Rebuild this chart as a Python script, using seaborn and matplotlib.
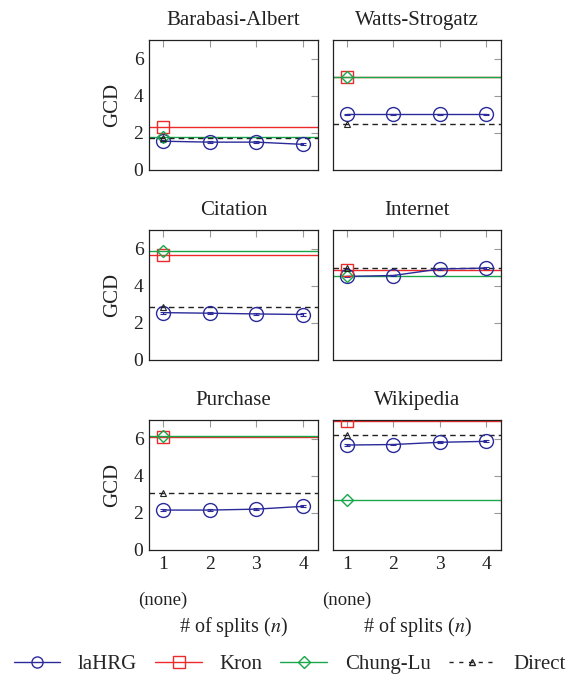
import matplotlib
matplotlib.use("Agg")
import matplotlib.pyplot as plt
import matplotlib.transforms as mtransforms
from matplotlib.lines import Line2D
import pandas as pd
import seaborn as sns

# data
datasets = ["Barabasi-Albert", "Watts-Strogatz", "Citation", "Internet", "Purchase", "Wikipedia"]
splits = [1, 2, 3, 4]
lahrg = [
    [1.55, 1.50, 1.50, 1.38],
    [3.00, 3.00, 3.00, 3.00],
    [2.55, 2.52, 2.48, 2.45],
    [4.50, 4.55, 4.90, 4.95],
    [2.15, 2.15, 2.20, 2.35],
    [5.65, 5.68, 5.80, 5.85],
]
lahrg_err = [
    [0.06, 0.05, 0.05, 0.06],
    [0.04, 0.04, 0.04, 0.04],
    [0.05, 0.04, 0.05, 0.06],
    [0.05, 0.05, 0.05, 0.06],
    [0.04, 0.04, 0.04, 0.05],
    [0.06, 0.05, 0.05, 0.05],
]
kron = [2.30, 5.00, 5.65, 4.85, 6.10, 6.95]
chung_lu = [1.80, 5.00, 5.85, 4.50, 6.15, 2.70]
direct = [1.70, 2.50, 2.85, 4.95, 3.05, 6.20]

BLUE = "#2a2a9a"
RED = "#ec2a2a"
GREEN = "#19a64b"
BLACK = "#222222"
TXT = "#222222"

sns.set_theme(style="white")
plt.rcParams["font.family"] = ["Liberation Serif", "DejaVu Serif"]
plt.rcParams["mathtext.fontset"] = "stix"

fig = plt.figure(figsize=(5.79, 6.79), dpi=100)
W, H = 579, 679
cols = [(149, 169), (333, 168)]
rows = [(40, 170), (230, 360), (420, 550)]

for i, name in enumerate(datasets):
    r, c = divmod(i, 2)
    x0, w = cols[c]
    top, bot = rows[r]
    ax = fig.add_axes([x0 / W, 1 - bot / H, w / W, (bot - top) / H])

    df = pd.DataFrame({"n": splits, "gcd": lahrg[i]})
    ax.errorbar(splits, lahrg[i], yerr=lahrg_err[i], fmt="none",
                ecolor=BLUE, elinewidth=0.8, capsize=2, capthick=0.8, zorder=3)
    sns.lineplot(data=df, x="n", y="gcd", ax=ax, color=BLUE, lw=1.0,
                 marker="o", markersize=10, markerfacecolor="none",
                 markeredgecolor=BLUE, markeredgewidth=1.0, zorder=4)

    ax.axhline(kron[i], color=RED, lw=1.0, zorder=2)
    ax.axhline(chung_lu[i], color=GREEN, lw=1.0, zorder=2)
    ax.axhline(direct[i], color=BLACK, lw=1.0, ls=(0, (4, 3)), zorder=2)
    ax.plot([1], [kron[i]], marker="s", ms=9, mfc="none", mec=RED, mew=1.0, zorder=5)
    ax.plot([1], [chung_lu[i]], marker="D", ms=6.5, mfc="none", mec=GREEN, mew=1.0, zorder=5)
    ax.plot([1], [direct[i]], marker="^", ms=5, mfc="none", mec=BLACK, mew=0.8, zorder=5)

    ax.set_xlim(0.7, 4.32)
    ax.set_ylim(0, 7)
    ax.set_xticks(splits)
    ax.set_yticks([0, 2, 4, 6])
    ax.tick_params(direction="in", top=True, right=True, length=5, width=0.8,
                   color="#999999", labelsize=14, pad=4, labelcolor=TXT)
    for sp in ax.spines.values():
        sp.set_color(TXT)
        sp.set_linewidth(0.9)
    ax.set_title(name, fontsize=15, color=TXT, pad=11)

    if c == 0:
        ax.set_ylabel("GCD", fontsize=15, color=TXT)
        ax.yaxis.set_label_coords(-0.16, 0.5)
    else:
        ax.set_ylabel("")
        ax.set_yticklabels([])

    if r == 2:
        ax.set_xlabel(r"# of splits ($n$)", fontsize=14.5, color=TXT)
        ax.xaxis.set_label_coords(0.5, -0.5)
        trans = mtransforms.blended_transform_factory(ax.transData, ax.transAxes)
        ax.text(1, -0.385, "(none)", transform=trans, ha="center", va="center",
                fontsize=13.5, color=TXT)
    else:
        ax.set_xlabel("")
        ax.set_xticklabels([])

handles = [
    Line2D([], [], color=BLUE, lw=1.0, marker="o", ms=8, mfc="none", mec=BLUE),
    Line2D([], [], color=RED, lw=1.0, marker="s", ms=8, mfc="none", mec=RED),
    Line2D([], [], color=GREEN, lw=1.0, marker="D", ms=6, mfc="none", mec=GREEN),
    Line2D([], [], color=BLACK, lw=1.0, ls=(0, (3, 4)), marker="^", ms=5, mfc="none", mec=BLACK),
]
fig.legend(handles, ["laHRG", "Kron", "Chung-Lu", "Direct"], loc="center",
           bbox_to_anchor=(0.5, 1 - 664 / H), ncol=4, frameon=False,
           fontsize=15, handlelength=2.25, handletextpad=0.85, columnspacing=0.85)

fig.savefig("out.png", dpi=100)
